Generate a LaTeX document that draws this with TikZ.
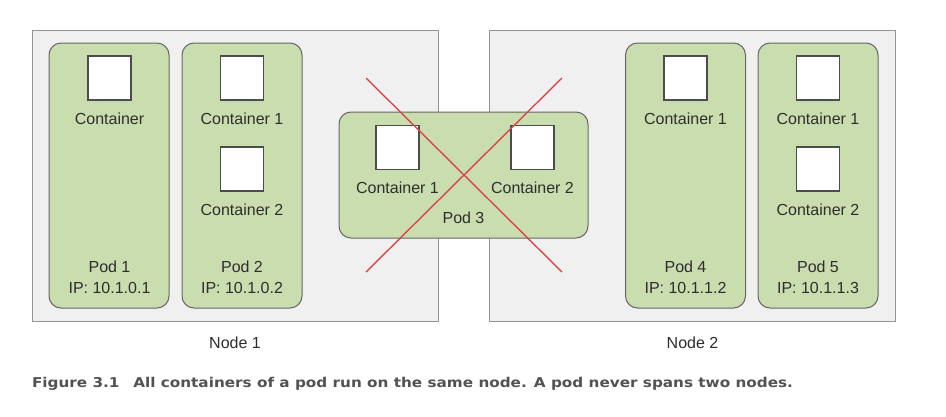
\documentclass[tikz,border=0pt]{standalone}
\usepackage{fontspec}
\setmainfont{Liberation Sans}
\newfontfamily\capfont{DejaVu Sans}
\begin{document}
\begin{tikzpicture}[x=1pt,y=-1pt,
  every node/.style={inner sep=0pt,outer sep=0pt},
  hostbox/.style={draw=black!42,fill=black!6,line width=1pt,minimum width=406pt,minimum height=291pt},
  podbox/.style={draw=black!60,fill=podgreen,line width=1pt,rounded corners=12pt},
  tallpod/.style={podbox,minimum width=120pt,minimum height=265pt},
  ctr/.style={draw=black!70,fill=white,line width=1.2pt,minimum width=43pt,minimum height=44pt},
  lbl/.style={font=\fontsize{16}{19}\selectfont,text=black!82},
  cross/.style={draw=crossred,line width=1.4pt}]
\definecolor{podgreen}{HTML}{CADDAE}
\definecolor{crossred}{HTML}{D8464C}
\useasboundingbox[fill=white] (0,0) rectangle (946,416);
% hosts
\node[hostbox] (n1) at (235,175.5) {};
\node[hostbox] (n2) at (692.5,175.5) {};
\node[lbl] (n1l) at (235,343) {Node 1};
\node[lbl] (n2l) at (692.5,343) {Node 2};
% pod 1
\node[tallpod] (p1) at (109,175.5) {};
\node[ctr] (p1c) at (109.5,78) {};
\node[lbl] (p1cl) at (109.5,119) {Container};
\node[lbl] (p1n) at (109.5,267) {Pod 1};
\node[lbl] (p1ip) at (109.5,288) {IP: 10.1.0.1};
% pod 2
\node[tallpod] (p2) at (242,175.5) {};
\node[ctr] (p2c1) at (242,78) {};
\node[lbl] (p2c1l) at (242,119) {Container 1};
\node[ctr] (p2c2) at (242,169) {};
\node[lbl] (p2c2l) at (242,210) {Container 2};
\node[lbl] (p2n) at (242,267) {Pod 2};
\node[lbl] (p2ip) at (242,288) {IP: 10.1.0.2};
% pod 4
\node[tallpod] (p4) at (685.5,175.5) {};
\node[ctr] (p4c) at (685.5,78) {};
\node[lbl] (p4cl) at (685.5,119) {Container 1};
\node[lbl] (p4n) at (685.5,267) {Pod 4};
\node[lbl] (p4ip) at (685.5,288) {IP: 10.1.1.2};
% pod 5
\node[tallpod] (p5) at (818,175.5) {};
\node[ctr] (p5c1) at (818,78) {};
\node[lbl] (p5c1l) at (818,119) {Container 1};
\node[ctr] (p5c2) at (818,169) {};
\node[lbl] (p5c2l) at (818,210) {Container 2};
\node[lbl] (p5n) at (818,267) {Pod 5};
\node[lbl] (p5ip) at (818,288) {IP: 10.1.1.3};
% pod 3 (spanning)
\node[podbox,minimum width=249pt,minimum height=126pt] (p3) at (463.5,175) {};
\node[ctr] (p3c1) at (397.5,147.5) {};
\node[ctr] (p3c2) at (532.5,147.5) {};
\node[lbl] (p3c1l) at (397.5,188) {Container 1};
\node[lbl] (p3c2l) at (532.5,188) {Container 2};
\node[lbl] (p3n) at (463.5,218) {Pod 3};
% red cross
\coordinate (xa) at (366,78);
\coordinate (xb) at (562,272);
\coordinate (xc) at (562,78);
\coordinate (xd) at (366,272);
\draw[cross] (xa) -- (xb);
\draw[cross] (xc) -- (xd);
% caption
\node[anchor=base west,font=\fontsize{13.5}{16}\selectfont\capfont\bfseries,text=black!68] (cap) at (32,387)
  {\resizebox{761pt}{\height}{Figure 3.1\hspace{0.9em}All containers of a pod run on the same node. A pod never spans two nodes.}};
\end{tikzpicture}
\end{document}
